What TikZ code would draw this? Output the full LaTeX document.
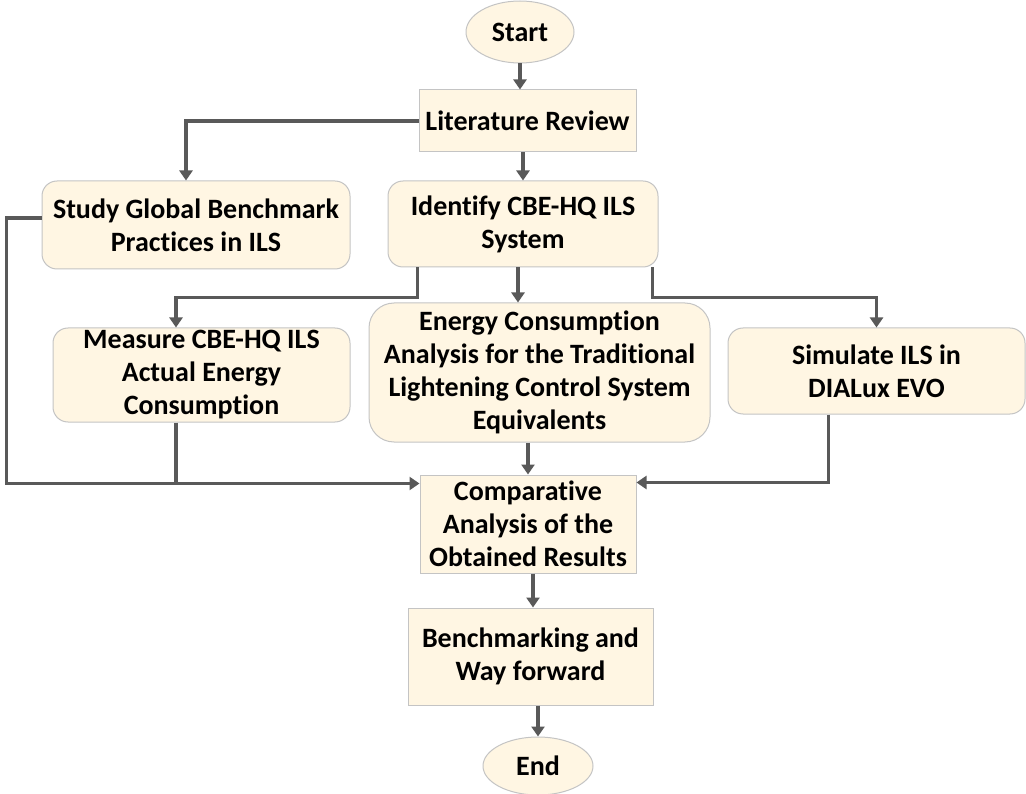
\documentclass[tikz,border=0pt]{standalone}
\usepackage{fontspec}
\setmainfont{Carlito}[Ligatures=NoCommon]
\usetikzlibrary{arrows.meta,calc,shapes.geometric}
\definecolor{boxfill}{HTML}{FFF6E3}
\definecolor{boxline}{HTML}{C4C4C4}
\definecolor{conn}{HTML}{595959}
\begin{document}
\begin{tikzpicture}[x=1pt,y=-1pt,
  base/.style={fill=boxfill,draw=boxline,line width=1pt,align=center,inner sep=2pt,
    font=\bfseries\fontsize{28}{33}\selectfont},
  plain/.style={base,rectangle},
  rbox/.style={base,rectangle,rounded corners=15pt},
  oval/.style={base,ellipse},
  line/.style={draw=conn,line width=3.6pt},
  arr/.style={line,-{Triangle[width=13pt,length=10pt]}}]
\useasboundingbox (0,0) rectangle (1026,794);
\node[oval,minimum width=108pt,minimum height=62pt] (start) at (520,32) {Start};
\node[plain,minimum width=217pt,minimum height=62pt] (lit) at (527.5,121) {Literature Review};
\node[rbox,minimum width=270pt,minimum height=86pt] (idf) at (523,224) {Identify CBE-HQ ILS\\System};
\node[rbox,minimum width=308pt,minimum height=88pt] (study) at (196,225) {Study Global Benchmark\\Practices in ILS};
\node[rbox,minimum width=297pt,minimum height=94pt] (meas) at (201.5,375) {Measure CBE-HQ ILS\\Actual Energy\\Consumption};
\node[rbox,rounded corners=25pt,minimum width=341pt,minimum height=139pt] (energy) at (539.5,372.5) {Energy Consumption\\Analysis for the Traditional\\Lightening Control System\\Equivalents};
\node[rbox,minimum width=297pt,minimum height=86pt] (sim) at (876.5,371) {Simulate ILS in\\DIALux EVO};
\node[plain,minimum width=216pt,minimum height=98pt] (comp) at (528,524) {Comparative\\Analysis of the\\Obtained Results};
\node[plain,minimum width=245pt,minimum height=97pt] (bench) at (530.5,656.5) {Benchmarking and\\Way forward};
\node[oval,minimum width=110pt,minimum height=58pt] (end) at (538,766) {End};
\coordinate (cl) at ($(comp.north west)+(0,9)$);
\coordinate (cr) at ($(comp.north east)+(0,8)$);
\coordinate (ms) at ($(meas.south)+(-25.5,0)$);
\coordinate (mn) at ($(meas.north)+(-25.5,0)$);
\coordinate (sn) at ($(study.north)+(-10,0)$);
\coordinate (sw) at ($(study.west)+(0,-7)$);
\coordinate (il) at ($(idf.south west)+(30,0)$);
\coordinate (im) at ($(idf.south)+(-5,0)$);
\coordinate (ir) at ($(idf.south east)+(-6,0)$);
\coordinate (ss) at ($(sim.south)+(-48,0)$);
\coordinate (cs) at ($(comp.south)+(5,0)$);
\draw[arr] (start.south) -- (start.south |- lit.north);
\draw[arr] (idf.north |- lit.south) -- (idf.north);
\draw[arr] (lit.west) -| (sn);
\draw[arr] (sw) -- ++(-35,0) |- (cl);
\draw[line] (ms) -- (ms |- cl);
\draw[arr] (il) -- ++(0,30) -| (mn);
\draw[arr] (im) -- (im |- energy.north);
\draw[arr] (ir) -- ++(0,30) -| (sim.north);
\draw[arr] (comp.north |- energy.south) -- (comp.north);
\draw[arr] (ss) |- (cr);
\draw[arr] (cs) -- (cs |- bench.north);
\draw[arr] (end.north |- bench.south) -- (end.north);
\end{tikzpicture}
\end{document}
